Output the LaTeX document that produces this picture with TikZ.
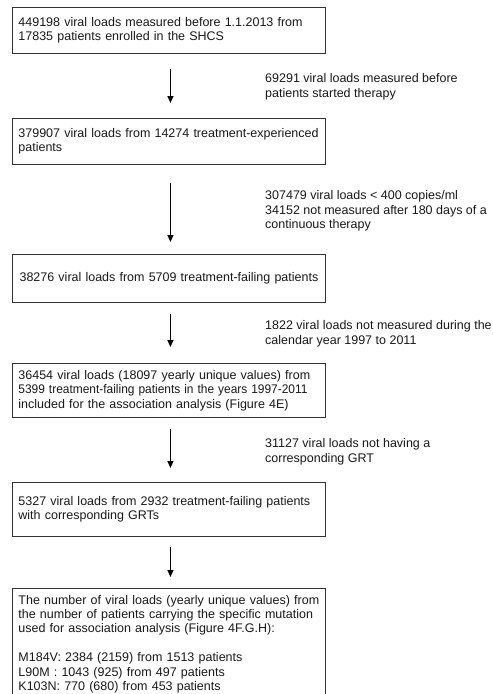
\documentclass[tikz,border=0pt]{standalone}
\usepackage{fontspec}
\setmainfont{Liberation Sans}
\usetikzlibrary{arrows.meta}
\begin{document}
\begin{tikzpicture}[x=1pt,y=1pt,
  txt/.style={font=\fontsize{12.5}{14.4}\selectfont, text=black!90},
  box/.style={txt, draw=black!80, line width=0.9pt, text width=301pt,
    inner xsep=6pt, inner ysep=0pt, align=left, anchor=north west},
  note/.style={txt, inner sep=0pt, align=left, anchor=north west},
  flow/.style={line width=1.3pt, draw=black, -{Triangle[length=7pt,width=6pt]}}]
\useasboundingbox (0,0) rectangle (493,-694);
\fill[white] (0,0) rectangle (493,-694);

\node[box, minimum height=46pt] (b1) at (12,-7)
  {449198 viral loads measured before 1.1.2013 from\\17835 patients enrolled in the SHCS};
\node[box, minimum height=46pt] (b2) at (12,-118)
  {379907 viral loads from 14274 treatment-experienced\\patients};
\node[box, minimum height=48pt, align=center] (b3) at (12,-254)
  {38276 viral loads from 5709 treatment-failing patients};
\node[box, minimum height=54pt] (b4) at (12,-363)
  {36454 viral loads (18097 yearly unique values) from\\\scalebox{0.955}[1]{5399 treatment-failing patients in the years 1997-2011}\\included for the association analysis (Figure 4E)};
\node[box, minimum height=54pt] (b5) at (12,-482)
  {5327 viral loads from 2932 treatment-failing patients\\with corresponding GRTs};
\node[box, inner ysep=6.5pt] (b6) at (12,-588)
  {The number of viral loads (yearly unique values) from\\the number of patients carrying the specific mutation\\used for association analysis (Figure 4F.G.H):\\[14.4pt]M184V: 2384 (2159) from 1513 patients\\L90M : 1043 (925) from 497 patients\\K103N: 770 (680) from 453 patients};

\node[note] (n1) at (265,-73.6)
  {69291 viral loads measured before\\patients started therapy};
\node[note] (n2) at (265,-190.4)
  {307479 viral loads < 400 copies/ml\\34152 not measured after 180 days of a\\continuous therapy};
\node[note] (n3) at (265,-320.4)
  {1822 viral loads not measured during the\\calendar year 1997 to 2011};
\node[note] (n4) at (265,-438.6)
  {31127 viral loads not having a\\corresponding GRT};

\draw[flow, shorten <=15pt, shorten >=15pt] ([xshift=1.5pt]b1.south) -- ([xshift=1.5pt]b2.north);
\draw[flow, shorten <=18pt, shorten >=12pt] ([xshift=1.5pt]b2.south) -- ([xshift=1.5pt]b3.north);
\draw[flow, shorten <=11pt, shorten >=16pt] ([xshift=1.5pt]b3.south) -- ([xshift=1.5pt]b4.north);
\draw[flow, shorten <=11pt, shorten >=14pt] ([xshift=1.5pt]b4.south) -- ([xshift=1.5pt]b5.north);
\draw[flow, shorten <=10pt, shorten >=11pt] ([xshift=1.5pt]b5.south) -- ([xshift=1.5pt]b6.north);
\end{tikzpicture}
\end{document}
